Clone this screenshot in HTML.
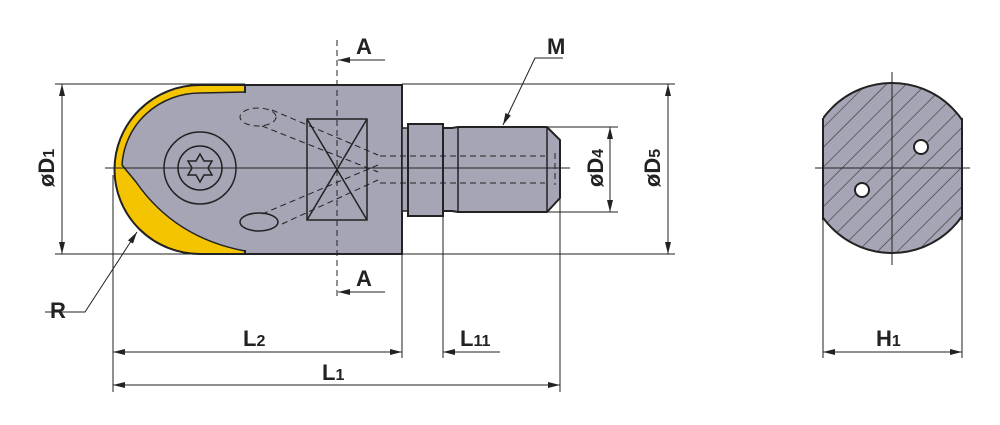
<!DOCTYPE html>
<html><head><style>body{margin:0;background:#fff}svg{display:block}text{font-family:"Liberation Sans",sans-serif;font-weight:bold;fill:#222}</style></head><body>
<svg width="1000" height="425" viewBox="0 0 1000 425" xmlns="http://www.w3.org/2000/svg">
<defs>
<marker id="a" viewBox="0 0 12 6" refX="12" refY="3" markerWidth="12" markerHeight="6" orient="auto-start-reverse" markerUnits="userSpaceOnUse"><path d="M0,0 L12,3 L0,6 Z" fill="#222"/></marker>
<pattern id="h" width="14" height="14" patternUnits="userSpaceOnUse" patternTransform="rotate(45)"><rect width="14" height="14" fill="#a5a5b5"/><line x1="0" y1="0" x2="0" y2="14" stroke="#333" stroke-width="1.2"/></pattern>
<clipPath id="c"><rect x="823" y="80" width="139" height="180"/></clipPath>
</defs>
<g stroke="#222" stroke-width="1" fill="none">
<line x1="55" y1="84" x2="245" y2="84"/><line x1="55" y1="254" x2="245" y2="254"/>
<line x1="402" y1="84" x2="675" y2="84"/><line x1="402" y1="254" x2="675" y2="254"/>
<line x1="547" y1="127" x2="618" y2="127"/><line x1="547" y1="212" x2="618" y2="212"/>
<line x1="113" y1="175" x2="113" y2="392"/><line x1="402" y1="254" x2="402" y2="358"/>
<line x1="443" y1="216" x2="443" y2="358"/><line x1="560" y1="198" x2="560" y2="392"/>
<line x1="62" y1="84" x2="62" y2="254" marker-start="url(#a)" marker-end="url(#a)"/>
<line x1="668" y1="84" x2="668" y2="254" marker-start="url(#a)" marker-end="url(#a)"/>
<line x1="610" y1="127" x2="610" y2="212" marker-start="url(#a)" marker-end="url(#a)"/>
<line x1="113" y1="352" x2="402" y2="352" marker-start="url(#a)" marker-end="url(#a)"/>
<line x1="500" y1="352" x2="443" y2="352" marker-end="url(#a)"/>
<line x1="113" y1="385" x2="560" y2="385" marker-start="url(#a)" marker-end="url(#a)"/>
<line x1="385" y1="60" x2="338" y2="60" marker-end="url(#a)"/>
<line x1="385" y1="292" x2="338" y2="292" marker-end="url(#a)"/>
<polyline points="45,312 85,312 137,232" marker-end="url(#a)"/>
<polyline points="563,58 535,58 503,125" marker-end="url(#a)"/>
</g>
<path d="M245,85 L200,85 A85,84 0 0 0 200,254 L245,254 Z" fill="#f5c400" stroke="#222" stroke-width="2"/>
<path d="M245,92 L200,93 A78,76 0 0 0 122,165 L136,182 Q175,238 245,251 Z" fill="#a5a5b5" stroke="#222" stroke-width="1.5"/>
<rect x="245" y="85" width="157" height="169" fill="#a5a5b5" stroke="#222" stroke-width="2"/>
<rect x="243" y="93" width="6" height="157" fill="#a5a5b5"/>
<rect x="402" y="128" width="6" height="83" fill="#a5a5b5" stroke="#222" stroke-width="1.5"/>
<rect x="408" y="124" width="35" height="92" fill="#a5a5b5" stroke="#222" stroke-width="2"/>
<path d="M443,128 L452,128 L458,127 L547,127 L560,140 L560,198 L547,212 L458,212 L452,211 L443,211 Z" fill="#a5a5b5" stroke="#222" stroke-width="2"/>
<line x1="458" y1="127" x2="458" y2="212" stroke="#222" stroke-width="1.5"/>
<line x1="547" y1="127" x2="547" y2="212" stroke="#222" stroke-width="1.5"/>
<g stroke="#222" stroke-width="1.5" fill="none">
<circle cx="200" cy="168" r="36"/><circle cx="200" cy="168" r="22"/>
<path d="M200,154 l4,7 8,0 -4,7 4,7 -8,0 -4,7 -4,-7 -8,0 4,-7 -4,-7 8,0z"/>
<rect x="307" y="119" width="60" height="101"/>
<line x1="307" y1="119" x2="367" y2="220"/><line x1="367" y1="119" x2="307" y2="220"/>
<ellipse cx="259" cy="222" rx="19" ry="9"/>
</g>
<g stroke="#222" stroke-width="1" fill="none" stroke-dasharray="6,4">
<ellipse cx="258" cy="117" rx="18" ry="9"/>
<line x1="272" y1="110" x2="378" y2="155"/><line x1="262" y1="126" x2="378" y2="172"/>
<line x1="262" y1="214" x2="378" y2="165"/><line x1="282" y1="224" x2="378" y2="180"/>
<line x1="380" y1="156" x2="545" y2="156"/><line x1="380" y1="183" x2="545" y2="183"/>
<line x1="337" y1="40" x2="337" y2="298"/>
<line x1="555" y1="153" x2="555" y2="185"/>
</g>
<line x1="105" y1="168" x2="570" y2="168" stroke="#222" stroke-width="1"/>
<circle cx="892" cy="168" r="85" fill="url(#h)" stroke="#222" stroke-width="2" clip-path="url(#c)"/>
<line x1="823" y1="118" x2="823" y2="220" stroke="#222" stroke-width="2"/>
<line x1="962" y1="118" x2="962" y2="220" stroke="#222" stroke-width="2"/>
<circle cx="921" cy="147" r="7" fill="#fff" stroke="#222" stroke-width="2"/>
<circle cx="862" cy="190" r="7" fill="#fff" stroke="#222" stroke-width="2"/>
<g stroke="#222" stroke-width="1">
<line x1="815" y1="168" x2="970" y2="168"/><line x1="892" y1="72" x2="892" y2="265"/>
<line x1="823" y1="220" x2="823" y2="358"/><line x1="962" y1="220" x2="962" y2="358"/>
<line x1="823" y1="352" x2="962" y2="352" marker-start="url(#a)" marker-end="url(#a)"/>
</g>
<text x="356" y="54" font-size="22">A</text>
<text x="356" y="286" font-size="22">A</text>
<text x="547" y="54" font-size="22">M</text>
<text x="50" y="318" font-size="22">R</text>
<text x="243" y="346" font-size="22">L<tspan font-size="16">2</tspan></text>
<text x="460" y="346" font-size="22">L<tspan font-size="16">11</tspan></text>
<text x="322" y="380" font-size="22">L<tspan font-size="16">1</tspan></text>
<text x="876" y="346" font-size="22">H<tspan font-size="16">1</tspan></text>
<text transform="translate(54,168) rotate(-90)" text-anchor="middle" font-size="22">øD<tspan font-size="16">1</tspan></text>
<text transform="translate(660,168) rotate(-90)" text-anchor="middle" font-size="22">øD<tspan font-size="16">5</tspan></text>
<text transform="translate(603,168) rotate(-90)" text-anchor="middle" font-size="22">øD<tspan font-size="16">4</tspan></text>
</svg>
</body></html>
